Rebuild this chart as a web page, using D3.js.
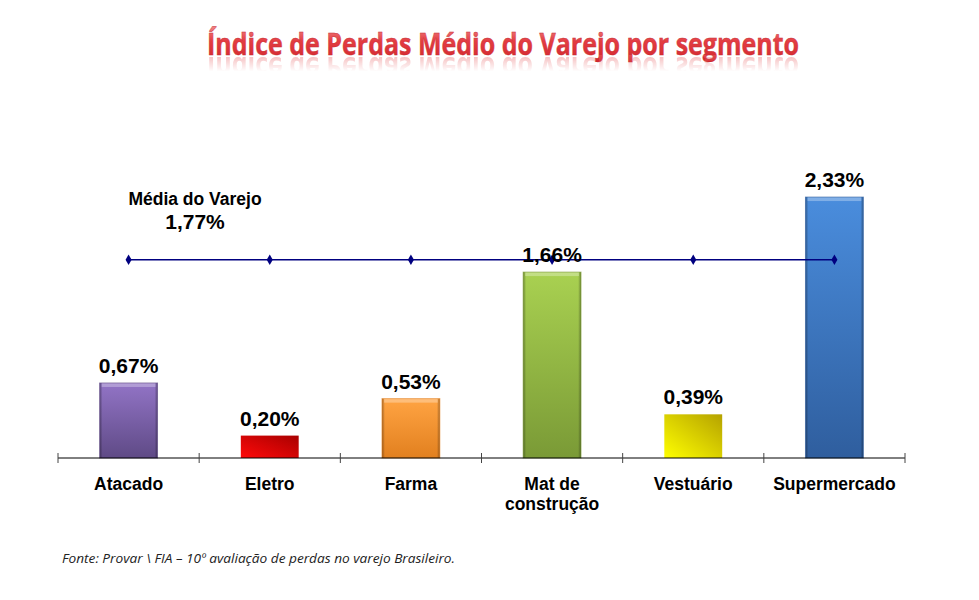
<!DOCTYPE html>
<html>
<head>
<meta charset="utf-8">
<script src="https://cdn.jsdelivr.net/npm/d3@7"></script>
<style>
  body { margin: 0; background: #fff; }
</style>
</head>
<body>
<div id="chart"></div>
<script>
// data
var categories = ["Atacado", "Eletro", "Farma", "Mat de construção", "Vestuário", "Supermercado"];
var labelLines = [["Atacado"], ["Eletro"], ["Farma"], ["Mat de", "construção"], ["Vestuário"], ["Supermercado"]];
var values = [0.67, 0.20, 0.53, 1.66, 0.39, 2.33];
var average = 1.77;
var titleText = "Índice de Perdas Médio do Varejo por segmento";
var sourceText = "Fonte: Provar \\ FIA – 10º  avaliação de perdas no varejo Brasileiro.";

// bar colours: [top, bottom, kind]
var barColors = [
  ["#9274c6", "#5f4a86", "bevel"],
  ["#ff0a0a", "#a80000", "flat"],
  ["#ffa443", "#e2801f", "bevel"],
  ["#a9d151", "#7a9a36", "bevel"],
  ["#ffff00", "#b5a200", "flat"],
  ["#4a8ddd", "#2f5e9e", "bevel"]
];

var W = 979, H = 600;
var margin = { left: 58, right: 74, top: 0, bottom: 0 };
var axisY = 458;

var svg = d3.select("#chart").append("svg")
  .attr("width", W)
  .attr("height", H)
  .style("font-family", "Arial, 'Liberation Sans', sans-serif");

var defs = svg.append("defs");

// scales
var x = d3.scaleBand()
  .domain(categories)
  .range([margin.left, W - margin.right])
  .paddingInner(0.59)
  .paddingOuter(0.295);

var xOuter = d3.scaleBand()
  .domain(categories)
  .range([margin.left, W - margin.right]);

var y = d3.scaleLinear()
  .domain([0, 2.5])
  .range([axisY, axisY - 280]);

// gradients
barColors.forEach(function (c, i) {
  var g;
  if (c[2] === "flat") {
    g = defs.append("linearGradient").attr("id", "bar" + i)
      .attr("x1", "0").attr("y1", "1").attr("x2", "1").attr("y2", "0");
  } else {
    g = defs.append("linearGradient").attr("id", "bar" + i)
      .attr("x1", "0").attr("y1", "0").attr("x2", "0").attr("y2", "1");
  }
  g.append("stop").attr("offset", "0%").attr("stop-color", c[0]);
  g.append("stop").attr("offset", "100%").attr("stop-color", c[1]);
});

var edge = defs.append("linearGradient").attr("id", "edge")
  .attr("x1", "0").attr("y1", "0").attr("x2", "1").attr("y2", "0");
edge.append("stop").attr("offset", "0%").attr("stop-color", "#000").attr("stop-opacity", 0.35);
edge.append("stop").attr("offset", "5%").attr("stop-color", "#000").attr("stop-opacity", 0.0);
edge.append("stop").attr("offset", "95%").attr("stop-color", "#000").attr("stop-opacity", 0.0);
edge.append("stop").attr("offset", "100%").attr("stop-color", "#000").attr("stop-opacity", 0.35);

var titleGrad = defs.append("linearGradient").attr("id", "titleGrad")
  .attr("x1", "0").attr("y1", "0").attr("x2", "0").attr("y2", "1");
titleGrad.append("stop").attr("offset", "0%").attr("stop-color", "#f59a9a");
titleGrad.append("stop").attr("offset", "45%").attr("stop-color", "#e33d43");
titleGrad.append("stop").attr("offset", "100%").attr("stop-color", "#cf252b");

var reflGrad = defs.append("linearGradient").attr("id", "reflGrad")
  .attr("x1", "0").attr("y1", "0").attr("x2", "0").attr("y2", "1");
reflGrad.append("stop").attr("offset", "0%").attr("stop-color", "#fff").attr("stop-opacity", 1);
reflGrad.append("stop").attr("offset", "55%").attr("stop-color", "#fff").attr("stop-opacity", 0);
var mask = defs.append("mask").attr("id", "reflMask");
mask.append("rect").attr("x", 0).attr("y", 55).attr("width", W).attr("height", 30)
  .attr("fill", "url(#reflGrad)");

// title + reflection
svg.append("text")
  .attr("x", 503).attr("y", 55)
  .attr("text-anchor", "middle")
  .attr("textLength", 592)
  .attr("lengthAdjust", "spacingAndGlyphs")
  .style("font-family", "'Open Sans', 'Noto Sans', sans-serif")
  .style("font-weight", "bold")
  .style("font-size", "31px")
  .attr("fill", "url(#titleGrad)")
  .attr("stroke", "#c62a30").attr("stroke-width", 0.4)
  .text(titleText);

svg.append("g").attr("mask", "url(#reflMask)")
  .append("text")
  .attr("transform", "translate(0,112) scale(1,-1)")
  .attr("x", 503).attr("y", 55)
  .attr("text-anchor", "middle")
  .attr("textLength", 592)
  .attr("lengthAdjust", "spacingAndGlyphs")
  .style("font-family", "'Open Sans', 'Noto Sans', sans-serif")
  .style("font-weight", "bold")
  .style("font-size", "31px")
  .attr("fill", "#e9686c")
  .attr("opacity", 0.45)
  .text(titleText);

// bars
var bars = svg.append("g");
categories.forEach(function (c, i) {
  var bx = x(c), bw = x.bandwidth(), by = y(values[i]), bh = axisY - y(values[i]);
  bars.append("rect")
    .attr("x", bx).attr("y", by).attr("width", bw).attr("height", bh)
    .attr("fill", "url(#bar" + i + ")");
  if (barColors[i][2] === "bevel") {
    bars.append("rect")
      .attr("x", bx).attr("y", by).attr("width", bw).attr("height", bh)
      .attr("fill", "url(#edge)");
    bars.append("rect")
      .attr("x", bx + 2).attr("y", by).attr("width", bw - 4).attr("height", 4)
      .attr("fill", "#fff").attr("opacity", 0.3);
    bars.append("rect")
      .attr("x", bx).attr("y", by).attr("width", bw).attr("height", bh)
      .attr("fill", "none").attr("stroke", barColors[i][1]).attr("stroke-width", 1)
      .attr("stroke-opacity", 0.6);
  }
});

// axis
var axis = svg.append("g");
axis.append("line")
  .attr("x1", margin.left).attr("x2", W - margin.right)
  .attr("y1", axisY).attr("y2", axisY)
  .attr("stroke", "#000").attr("stroke-width", 1);
var tickPos = categories.map(function (c) { return xOuter(c); }).concat([W - margin.right]);
tickPos.forEach(function (t) {
  axis.append("line")
    .attr("x1", t).attr("x2", t)
    .attr("y1", axisY - 5).attr("y2", axisY + 5)
    .attr("stroke", "#444").attr("stroke-width", 1);
});

// category labels
categories.forEach(function (c, i) {
  var t = svg.append("text")
    .attr("x", x(c) + x.bandwidth() / 2)
    .attr("y", 490)
    .attr("text-anchor", "middle")
    .style("font-size", "17.5px")
    .style("font-weight", "bold")
    .attr("fill", "#000");
  labelLines[i].forEach(function (l, j) {
    t.append("tspan")
      .attr("x", x(c) + x.bandwidth() / 2)
      .attr("dy", j === 0 ? 0 : 20)
      .text(l);
  });
});

// average line
var avgLine = d3.line()
  .x(function (d) { return x(d) + x.bandwidth() / 2; })
  .y(function () { return y(average); });
svg.append("path")
  .datum(categories)
  .attr("d", avgLine)
  .attr("fill", "none")
  .attr("stroke", "#000080")
  .attr("stroke-width", 1.3);
svg.selectAll(".avgPt")
  .data(categories)
  .enter().append("path")
  .attr("class", "avgPt")
  .attr("d", d3.symbol().type(d3.symbolDiamond).size(32))
  .attr("transform", function (d) {
    return "translate(" + (x(d) + x.bandwidth() / 2) + "," + y(average) + ")";
  })
  .attr("fill", "#000080");

// value labels
categories.forEach(function (c, i) {
  svg.append("text")
    .attr("x", x(c) + x.bandwidth() / 2)
    .attr("y", y(values[i]) - 10)
    .attr("text-anchor", "middle")
    .style("font-size", "21px")
    .style("font-weight", "bold")
    .attr("fill", "#000")
    .text(values[i].toFixed(2).replace(".", ",") + "%");
});

// average label
svg.append("text")
  .attr("x", 195).attr("y", 205)
  .attr("text-anchor", "middle")
  .style("font-size", "17.5px")
  .style("font-weight", "bold")
  .attr("fill", "#000")
  .text("Média do Varejo");
svg.append("text")
  .attr("x", 195).attr("y", 229)
  .attr("text-anchor", "middle")
  .style("font-size", "21px")
  .style("font-weight", "bold")
  .attr("fill", "#000")
  .text(average.toFixed(2).replace(".", ",") + "%");

// source
svg.append("text")
  .attr("x", 62).attr("y", 563)
  .style("font-size", "13px")
  .style("font-style", "italic")
  .style("font-family", "'Open Sans', 'Noto Sans', sans-serif")
  .attr("fill", "#222")
  .attr("textLength", 393)
  .attr("lengthAdjust", "spacingAndGlyphs")
  .text(sourceText);
</script>
</body>
</html>
